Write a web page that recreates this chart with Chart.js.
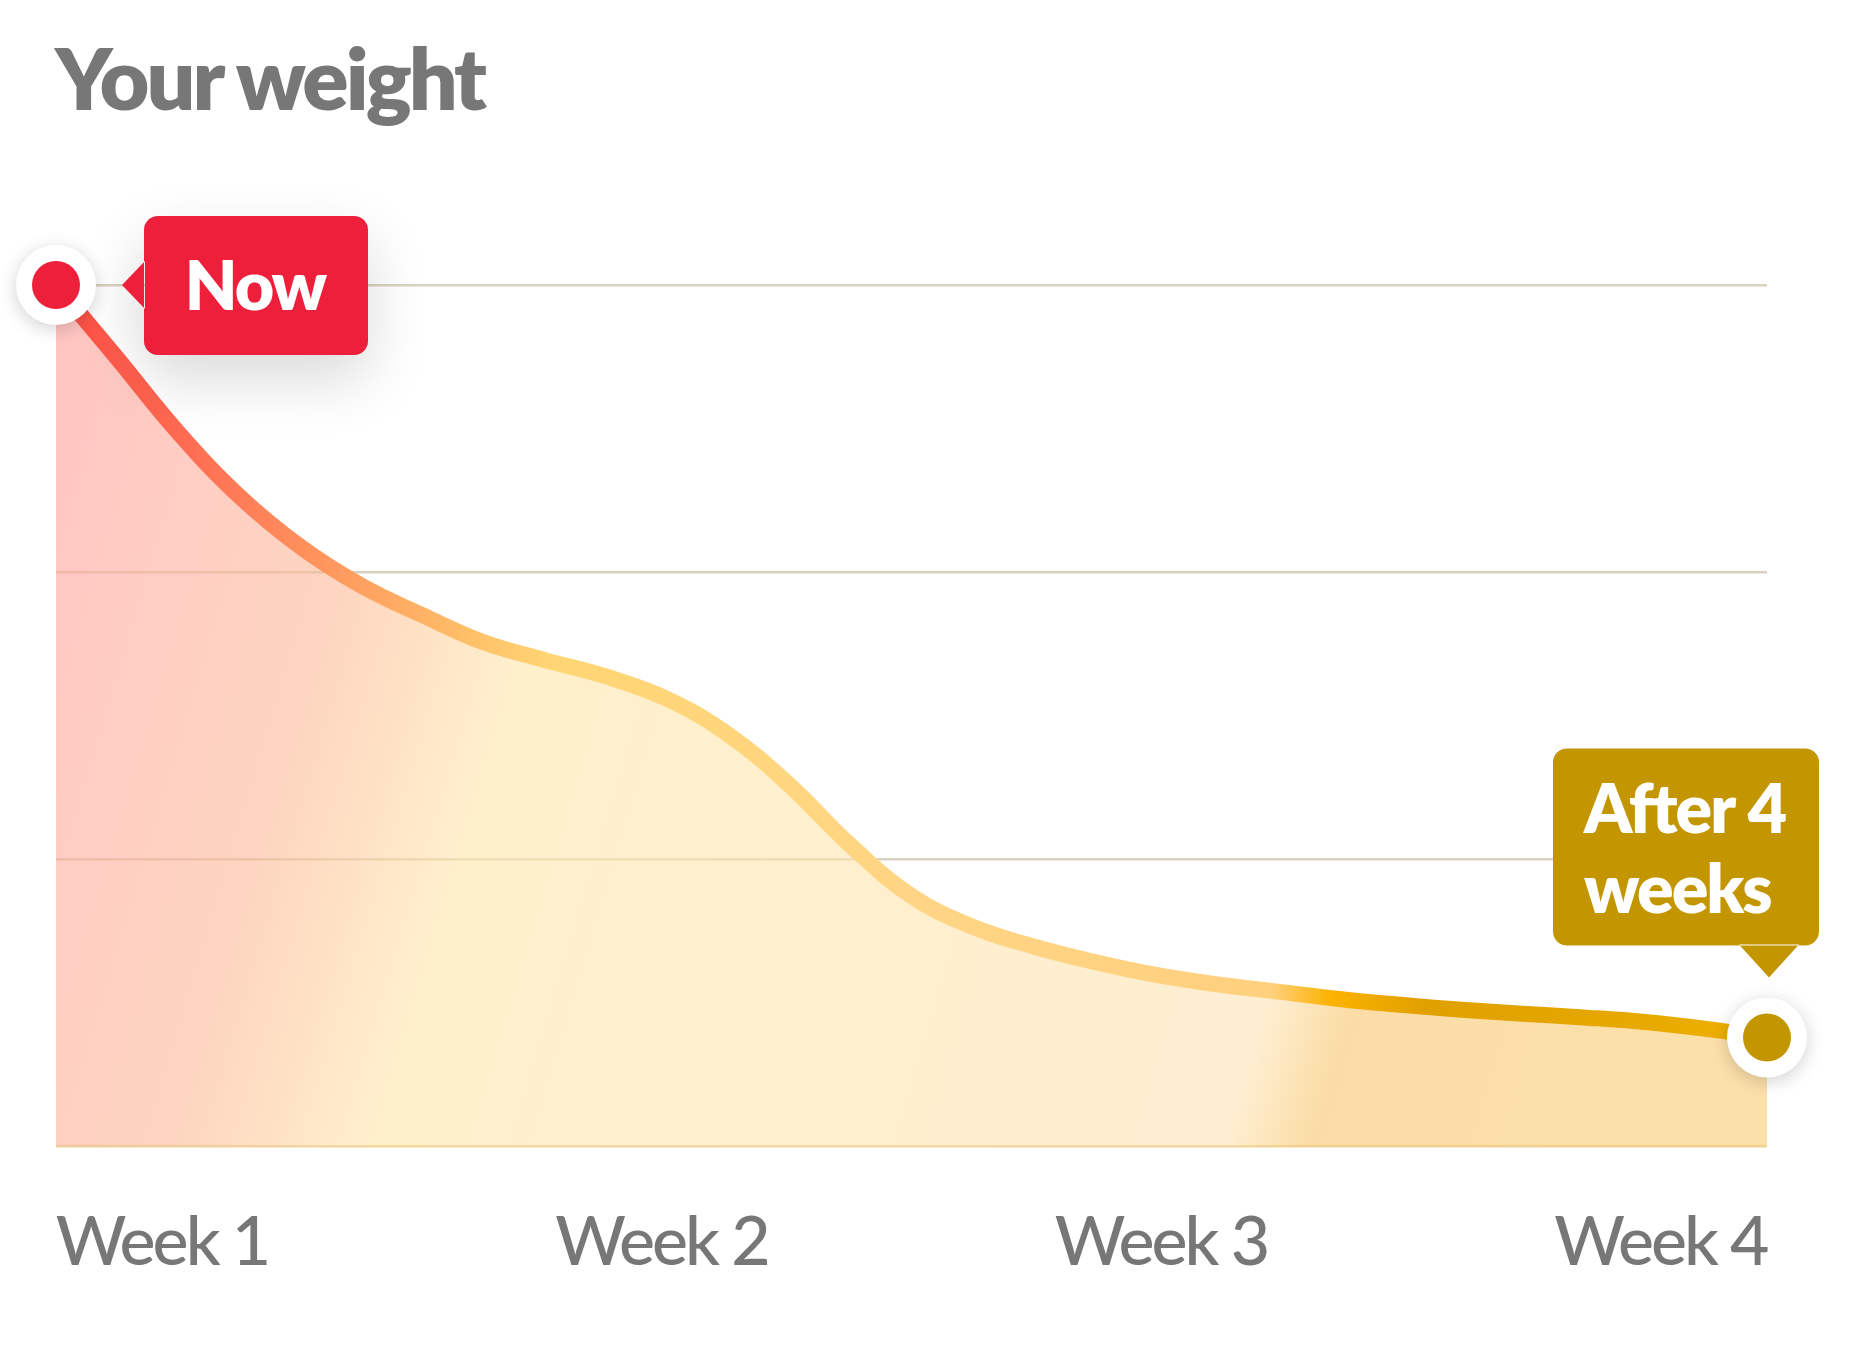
<!DOCTYPE html>
<html>
<head>
<meta charset="utf-8">
<script src="https://cdn.jsdelivr.net/npm/chart.js@4.4.1/dist/chart.umd.min.js"></script>
<style>
  html, body { margin: 0; padding: 0; background: #fff; }
  #wrap { position: relative; width: 1851px; height: 1352px; }
  #title { position: absolute; left: 55px; top: 34px; margin: 0; font: 800 86px/86px Lato, sans-serif; color: #777; white-space: nowrap; letter-spacing: -3px; }
  canvas { position: absolute; left: 0; top: 0; }
</style>
</head>
<body>
<div id="wrap">
  <canvas id="chart" width="1851" height="1352"></canvas>
  <h1 id="title">Your weight</h1>
</div>
<script>
// one point per day, weight shown relative to the chart's range (0..3)
const days = [0, 1, 2, 3, 4, 5, 6, 7, 8, 9, 10, 11, 12, 13, 14, 15, 16, 17, 18, 19, 20, 21, 22, 23, 24, 25, 26, 27, 28];
const weight = [3.00, 2.745, 2.486, 2.264, 2.088, 1.952, 1.849, 1.755, 1.693, 1.636, 1.558, 1.434, 1.258, 1.048,
  0.871, 0.764, 0.695, 0.641, 0.596, 0.563, 0.538, 0.512, 0.492, 0.475, 0.461, 0.448, 0.432, 0.408, 0.378];
const weekLabels = ['Week 1', 'Week 2', 'Week 3', 'Week 4'];
const weekTicks = [0, 1, 2, 3];
const gridValues = [0, 1, 2, 3];
const startLabel = 'Now';
const endLabel = ['After 4', 'weeks'];

const FONT = 'Lato, "Noto Sans", sans-serif';

function lineGradient(ctx, area) {
  const g = ctx.createLinearGradient(area.left, 0, area.right, 0);
  g.addColorStop(0, '#ff4d45');
  g.addColorStop(0.08, '#ff6e53');
  g.addColorStop(0.16, '#ff985e');
  g.addColorStop(0.24, '#ffbf68');
  g.addColorStop(0.29, '#ffd673');
  g.addColorStop(0.5, '#ffd585');
  g.addColorStop(0.71, '#ffd07e');
  g.addColorStop(0.745, '#fbb300');
  g.addColorStop(0.8, '#e0a000');
  g.addColorStop(0.92, '#e7a800');
  g.addColorStop(1, '#f0b200');
  return g;
}

// slightly diagonal, so the colours move on a little further down the area
function fillGradient(ctx, area) {
  const w = area.right - area.left;
  const g = ctx.createLinearGradient(area.left, area.top, area.right, area.top + 0.3 * w);
  g.addColorStop(0, 'rgba(255,157,153,0.6)');
  g.addColorStop(0.1, 'rgba(255,172,155,0.6)');
  g.addColorStop(0.2, 'rgba(252,185,150,0.6)');
  g.addColorStop(0.31, 'rgba(255,230,170,0.6)');
  g.addColorStop(0.6, 'rgba(254,228,175,0.6)');
  g.addColorStop(0.765, 'rgba(253,227,180,0.6)');
  g.addColorStop(0.81, 'rgba(247,198,107,0.6)');
  g.addColorStop(1, 'rgba(250,203,113,0.6)');
  return g;
}

function dot(ctx, x, y, color) {
  ctx.save();
  ctx.shadowColor = 'rgba(0,0,0,0.18)';
  ctx.shadowBlur = 18;
  ctx.shadowOffsetY = 4;
  ctx.fillStyle = '#fff';
  ctx.beginPath();
  ctx.arc(x, y, 40, 0, Math.PI * 2);
  ctx.fill();
  ctx.restore();
  ctx.fillStyle = color;
  ctx.beginPath();
  ctx.arc(x, y, 24, 0, Math.PI * 2);
  ctx.fill();
}

const callouts = {
  id: 'callouts',
  beforeDraw(chart) {
    chart.ctx.letterSpacing = '-3px'; // tighter tick labels
  },
  afterDatasetsDraw(chart) {
    const ctx = chart.ctx;
    const pts = chart.getDatasetMeta(0).data;
    const a = pts[0], b = pts[pts.length - 1];

    // "Now" box, arrow pointing left to the first point
    ctx.save();
    ctx.shadowColor = 'rgba(0,0,0,0.15)';
    ctx.shadowBlur = 60;
    ctx.shadowOffsetY = 24;
    ctx.fillStyle = '#ee1f3b';
    ctx.beginPath();
    ctx.roundRect(a.x + 88, a.y - 69, 224, 139, 14);
    ctx.moveTo(a.x + 89, a.y - 24);
    ctx.lineTo(a.x + 66, a.y);
    ctx.lineTo(a.x + 89, a.y + 24);
    ctx.closePath();
    ctx.fill();
    ctx.restore();
    ctx.save();
    ctx.letterSpacing = '-2px';
    ctx.fillStyle = '#fff';
    ctx.font = '800 68px ' + FONT;
    ctx.textAlign = 'center';
    ctx.textBaseline = 'middle';
    ctx.fillText(startLabel, a.x + 199, a.y + 3);

    // "After 4 weeks" box, arrow pointing down to the last point
    ctx.fillStyle = '#c39600';
    ctx.beginPath();
    ctx.roundRect(b.x - 214, b.y - 289, 266, 197, 14);
    ctx.moveTo(b.x - 28, b.y - 93);
    ctx.lineTo(b.x + 2, b.y - 60);
    ctx.lineTo(b.x + 32, b.y - 93);
    ctx.closePath();
    ctx.fill();
    ctx.fillStyle = '#fff';
    ctx.textAlign = 'left';
    ctx.textBaseline = 'alphabetic';
    ctx.fillText(endLabel[0], b.x - 183, b.y - 205);
    ctx.fillText(endLabel[1], b.x - 183, b.y - 125);
    ctx.restore();

    dot(ctx, a.x, a.y, '#ee1f3b');
    dot(ctx, b.x, b.y, '#c39600');
  }
};

new Chart(document.getElementById('chart'), {
  type: 'line',
  data: {
    labels: days,
    datasets: [{
      data: weight,
      borderWidth: 16,
      borderCapStyle: 'round',
      tension: 0.4,
      pointRadius: 0,
      fill: 'origin',
      clip: false,
      borderColor: (c) => c.chart.chartArea ? lineGradient(c.chart.ctx, c.chart.chartArea) : '#ffd585',
      backgroundColor: (c) => c.chart.chartArea ? fillGradient(c.chart.ctx, c.chart.chartArea) : 'rgba(255,230,172,0.6)'
    }]
  },
  options: {
    responsive: false,
    animation: false,
    devicePixelRatio: 1,
    layout: { padding: { left: 56, right: 84, top: 285, bottom: 0 } },
    plugins: { legend: { display: false }, tooltip: { enabled: false } },
    scales: {
      x: { type: 'category', display: false },
      weeks: {
        type: 'linear',
        axis: 'x',
        position: 'bottom',
        min: -0.2123,
        max: 3.2135,
        afterBuildTicks: (s) => { s.ticks = weekTicks.map((v) => ({ value: v })); },
        afterFit: (s) => { s.height = 206; s.paddingLeft = 0; s.paddingRight = 0; },
        grid: { display: false, drawTicks: false },
        border: { display: false },
        ticks: {
          callback: (v, i) => weekLabels[i],
          autoSkip: false,
          maxRotation: 0,
          padding: 56,
          color: '#777',
          font: { family: FONT, size: 68, weight: '500' }
        }
      },
      y: {
        min: 0,
        max: 3,
        afterBuildTicks: (s) => { s.ticks = gridValues.map((v) => ({ value: v })); },
        afterFit: (s) => { s.width = 0; },
        ticks: { display: false },
        border: { display: false },
        grid: {
          drawTicks: false,
          lineWidth: 2.5,
          color: (c) => c.tick.value === 0 ? '#efd49c' : '#d9d2c3'
        }
      }
    }
  },
  plugins: [callouts]
});
</script>
</body>
</html>
